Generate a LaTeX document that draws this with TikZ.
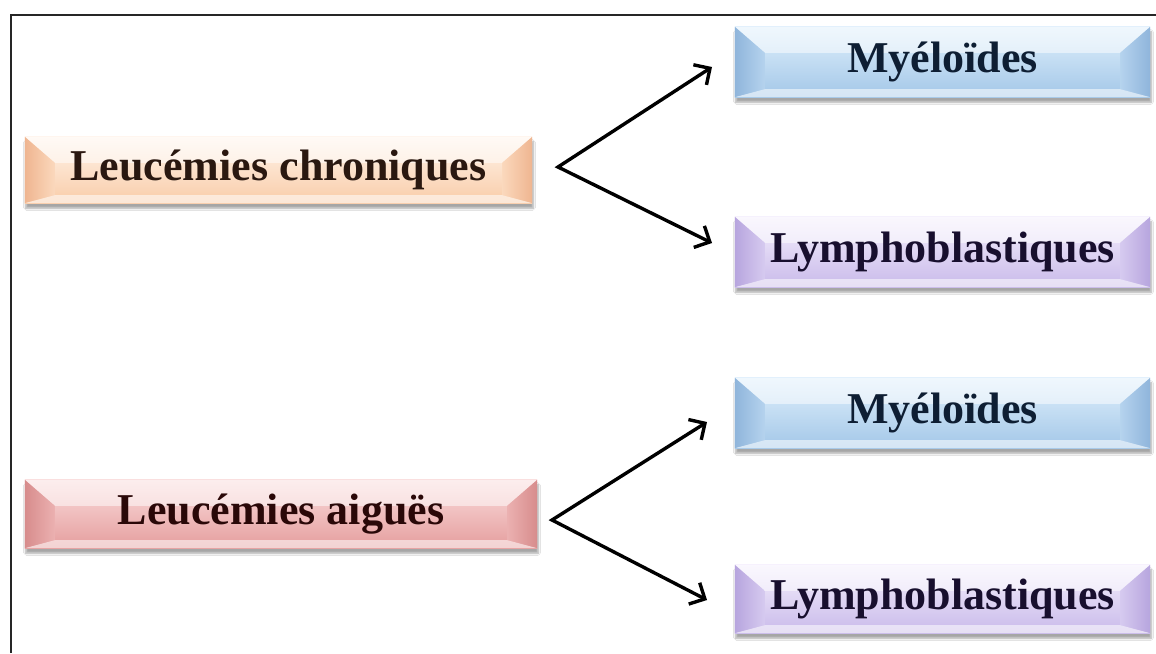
\documentclass[tikz,border=0pt]{standalone}
\usepackage{fontspec}
\setmainfont{Liberation Serif}
\usetikzlibrary{arrows.meta,calc,shadows.blur,backgrounds}
\definecolor{peachT}{HTML}{FFF5EC}
\definecolor{peachB}{HTML}{F9CCA8}
\definecolor{peachF}{HTML}{EFB590}
\definecolor{blueT}{HTML}{E0F0FC}
\definecolor{blueB}{HTML}{A3C7E8}
\definecolor{blueF}{HTML}{8FB5DB}
\definecolor{lavT}{HTML}{F5F0FD}
\definecolor{lavB}{HTML}{C9BAEA}
\definecolor{lavF}{HTML}{B7A5DE}
\definecolor{redT}{HTML}{FADCDC}
\definecolor{redB}{HTML}{E59E9E}
\definecolor{redF}{HTML}{D78C8C}
\definecolor{txtP}{HTML}{2A1810}
\definecolor{txtB}{HTML}{0E1E33}
\definecolor{txtL}{HTML}{180F2E}
\definecolor{txtR}{HTML}{2A0808}
\tikzset{
  x=1pt, y=-1pt,
  boxtext/.style={inner sep=0pt, font=\fontsize{44}{50}\selectfont\bfseries},
  arr/.style={line width=3.4pt, {Straight Barb[length=12pt,width=24pt]}-{Straight Barb[length=12pt,width=24pt]}},
  frame/.style={line width=2.6pt, draw=black!85}
}
\begin{document}
\begin{tikzpicture}
\useasboundingbox (0,0) rectangle (1156,653);

\node[boxtext, minimum width=507pt, minimum height=66pt, text=txtP] (lc) at (278.5,170) {Leucémies chroniques};
\node[boxtext, minimum width=512pt, minimum height=68pt, text=txtR] (la) at (281,514) {Leucémies aiguës};
\node[boxtext, minimum width=415pt, minimum height=70pt, text=txtB] (my1) at (942.5,62) {Myéloïdes};
\node[boxtext, minimum width=415pt, minimum height=70pt, text=txtL] (ly1) at (942.5,252) {Lymphoblastiques};
\node[boxtext, minimum width=415pt, minimum height=70pt, text=txtB] (my2) at (942.5,413) {Myéloïdes};
\node[boxtext, minimum width=415pt, minimum height=68pt, text=txtL] (ly2) at (942.5,599) {Lymphoblastiques};

\begin{scope}[on background layer]
\fill[white] (0,0) rectangle (1156,653);
\draw[frame] (11,653) -- (11,15) -- (1156,15);
\foreach \n/\t/\b/\f in {lc/peachT/peachB/peachF, la/redT/redB/redF, my1/blueT/blueB/blueF, ly1/lavT/lavB/lavF, my2/blueT/blueB/blueF, ly2/lavT/lavB/lavF}{
  \fill[top color=\t, bottom color=\b, blur shadow={shadow xshift=1pt, shadow yshift=-5pt, shadow opacity=35, shadow blur steps=8}] (\n.north west) rectangle (\n.south east);
  \fill[white, opacity=0.5] (\n.north west) -- (\n.north east) -- ($(\n.north east)+(-30,26)$) -- ($(\n.north west)+(30,26)$) -- cycle;
  \shade[left color=\f, right color=\b!70!\t] (\n.north west) -- ($(\n.north west)+(30,26)$) -- ($(\n.south west)+(30,-8)$) -- (\n.south west) -- cycle;
  \shade[right color=\f, left color=\b!70!\t] (\n.north east) -- ($(\n.north east)+(-30,26)$) -- ($(\n.south east)+(-30,-8)$) -- (\n.south east) -- cycle;
  \fill[white, opacity=0.55] (\n.south west) -- ($(\n.south west)+(30,-8)$) -- ($(\n.south east)+(-30,-8)$) -- (\n.south east) -- cycle;
}
\end{scope}

\coordinate (v1) at (558,167);
\coordinate (a1) at (712,67);
\coordinate (b1) at (712,243);
\coordinate (v2) at (552,520);
\coordinate (a2) at (707,422);
\coordinate (b2) at (707,600);
\draw[arr] (a1) -- (v1) -- (b1);
\draw[arr] (a2) -- (v2) -- (b2);
\end{tikzpicture}
\end{document}
